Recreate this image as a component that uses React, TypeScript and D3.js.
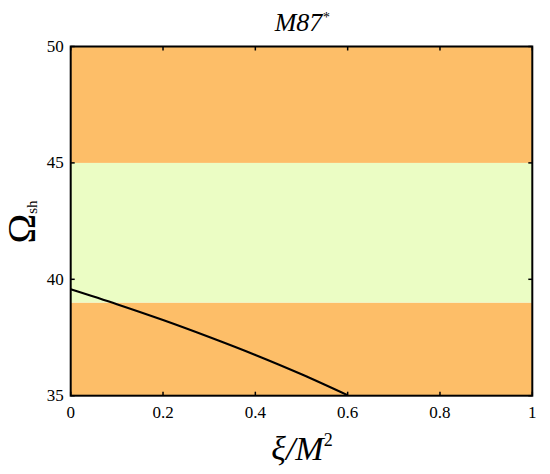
import React from "react";
import * as d3 from "d3";

const xTicks = [0, 0.2, 0.4, 0.6, 0.8, 1];
const xTickLabels = ["0", "0.2", "0.4", "0.6", "0.8", "1"];
const yTicks = [35, 40, 45, 50];
const bandFrom = [35, 39, 45];
const bandTo = [39, 45, 50];
const bandColor = ["#FDBE68", "#EBFDC4", "#FDBE68"];
const xiValues = [0, 0.1, 0.2, 0.3, 0.4, 0.5, 0.6];
const omegaValues = [39.57, 38.93, 38.25, 37.52, 36.75, 35.92, 35.02];

const W = 550;
const H = 474;
const left = 70.7;
const right = 532.3;
const top = 46.5;
const bottom = 395.7;

export default function App() {
  const x = d3.scaleLinear().domain([0, 1]).range([left, right]);
  const y = d3.scaleLinear().domain([35, 50]).range([bottom, top]);
  const line = d3
    .line<number>()
    .x((_, i) => x(xiValues[i]))
    .y((d) => y(d))
    .curve(d3.curveMonotoneX);
  const font = "Liberation Serif";
  const tl = 4;
  return (
    <svg
      width={W}
      height={H}
      style={{ position: "absolute", left: 0, top: 0, fontFamily: font }}
    >
      <defs>
        <clipPath id="plot">
          <rect x={left} y={top} width={right - left} height={bottom - top} />
        </clipPath>
      </defs>
      {bandFrom.map((f, i) => (
        <rect
          key={i}
          x={left}
          width={right - left}
          y={y(bandTo[i])}
          height={y(f) - y(bandTo[i])}
          fill={bandColor[i]}
        />
      ))}
      <path
        d={line(omegaValues) || ""}
        fill="none"
        stroke="#000"
        strokeWidth={2}
        clipPath="url(#plot)"
      />
      {xTicks.map((t, i) => (
        <g key={"x" + i}>
          <line x1={x(t)} x2={x(t)} y1={bottom} y2={bottom - tl} stroke="#000" strokeWidth={1.5} />
          <line x1={x(t)} x2={x(t)} y1={top} y2={top + tl} stroke="#000" strokeWidth={1.5} />
          <text x={x(t)} y={bottom + 22} fontSize={17} textAnchor="middle" style={{ fontFamily: font }}>
            {xTickLabels[i]}
          </text>
        </g>
      ))}
      {yTicks.map((t, i) => (
        <g key={"y" + i}>
          <line x1={left} x2={left + tl} y1={y(t)} y2={y(t)} stroke="#000" strokeWidth={1.5} />
          <line x1={right} x2={right - tl} y1={y(t)} y2={y(t)} stroke="#000" strokeWidth={1.5} />
          <text x={left - 7} y={y(t) + 5.5} fontSize={17} textAnchor="end" style={{ fontFamily: font }}>
            {t}
          </text>
        </g>
      ))}
      <rect
        x={left}
        y={top}
        width={right - left}
        height={bottom - top}
        fill="none"
        stroke="#000"
        strokeWidth={2}
      />
      <text x={302} y={31} fontSize={26} fontStyle="italic" textAnchor="middle" style={{ fontFamily: font }}>
        M87
        <tspan dy={-9} fontSize={14}>*</tspan>
      </text>
      <text x={302} y={460} fontSize={34} fontStyle="italic" textAnchor="middle" style={{ fontFamily: font }}>
        ξ/M
        <tspan dy={-14} fontSize={18} fontStyle="normal">2</tspan>
      </text>
      <g transform="translate(35,222) rotate(-90)">
        <text x={0} y={0} fontSize={40} textAnchor="middle" style={{ fontFamily: font }}>
          Ω<tspan dy={2} fontSize={15}>sh</tspan>
        </text>
      </g>
    </svg>
  );
}
